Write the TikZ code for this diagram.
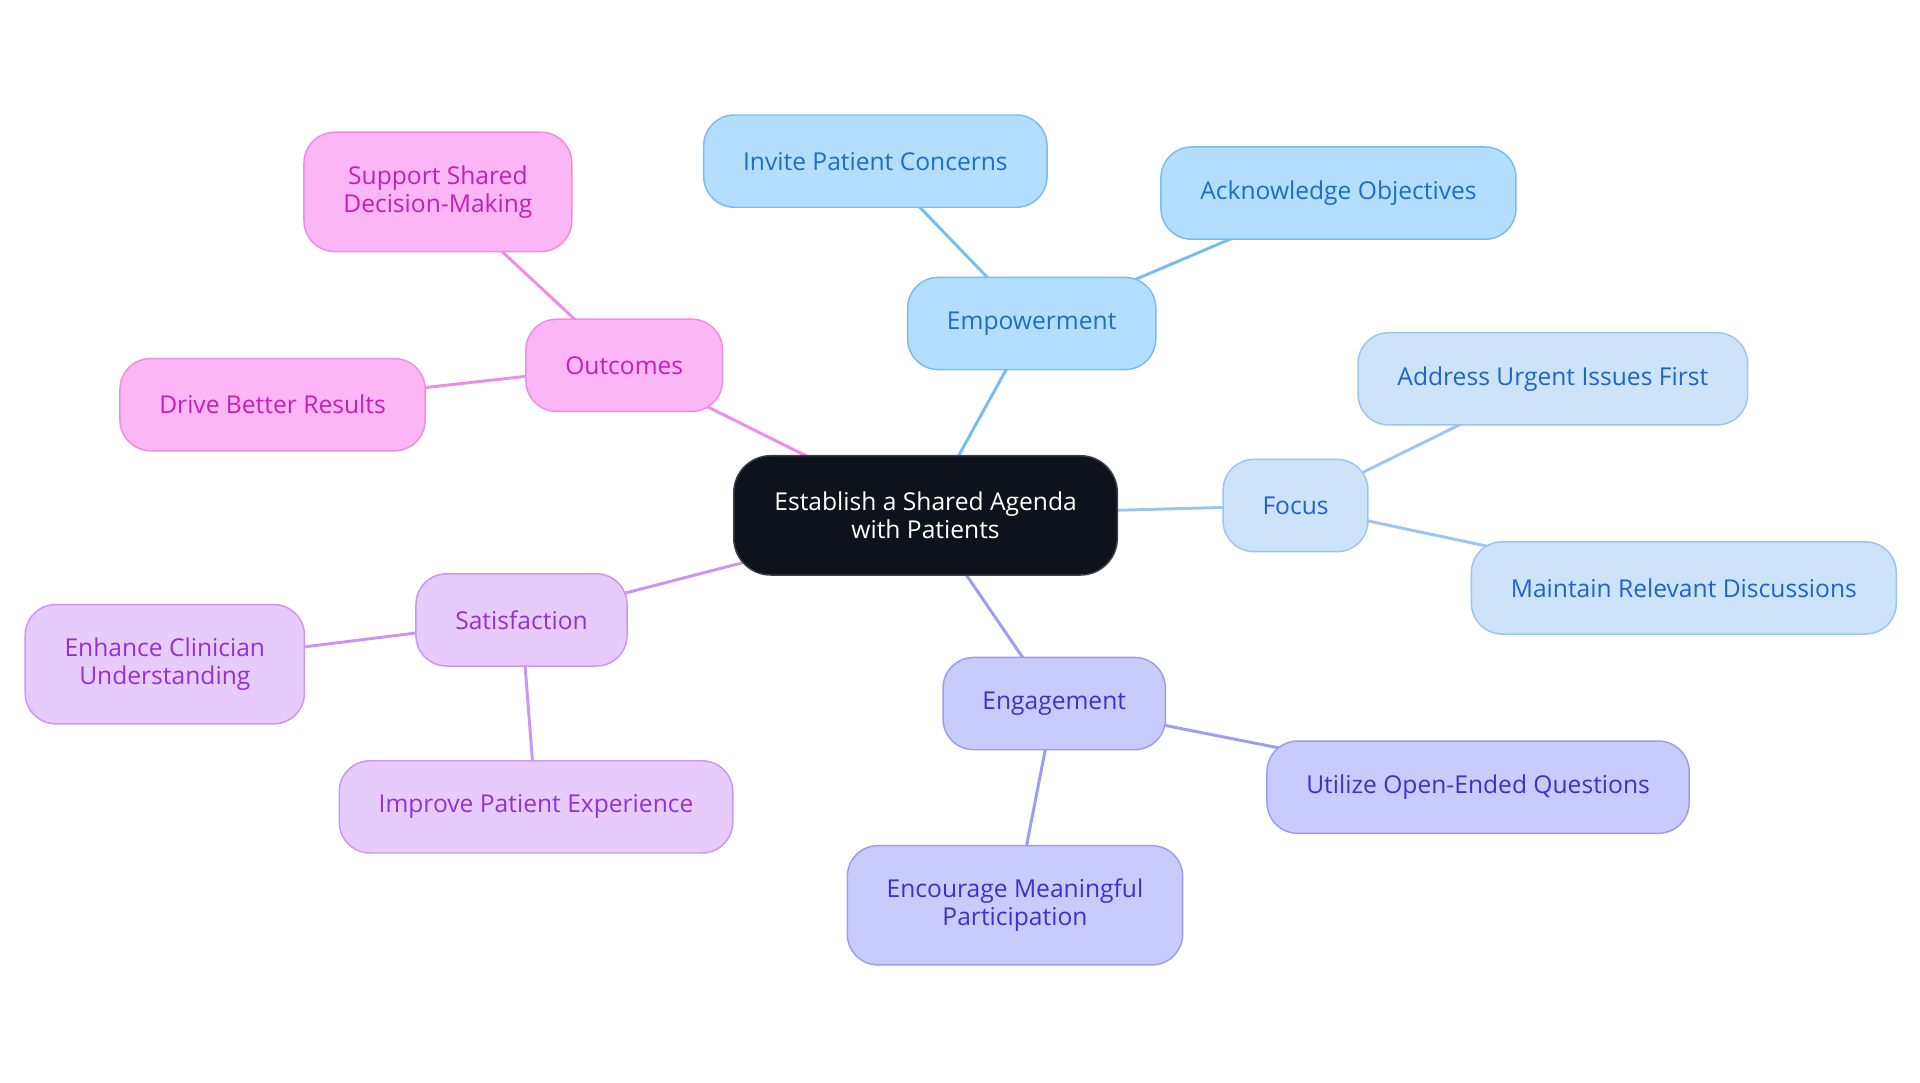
\documentclass[tikz,border=0pt]{standalone}
\usepackage{fontspec}
\setmainfont{Open Sans}
\usetikzlibrary{backgrounds}

\definecolor{rootfill}{HTML}{0D121B}
\definecolor{rootline}{HTML}{3A3F47}
\definecolor{empfill}{HTML}{B3DEFD}
\definecolor{empline}{HTML}{79BDF0}
\definecolor{emptext}{HTML}{1C6FC5}
\definecolor{focfill}{HTML}{CCE3FA}
\definecolor{focline}{HTML}{9DC5F1}
\definecolor{foctext}{HTML}{1F64C8}
\definecolor{engfill}{HTML}{C9CBFD}
\definecolor{engline}{HTML}{9C9DF2}
\definecolor{engtext}{HTML}{3B33C8}
\definecolor{satfill}{HTML}{E8CBFD}
\definecolor{satline}{HTML}{CA96F1}
\definecolor{sattext}{HTML}{9331D4}
\definecolor{outcfill}{HTML}{FCB5F5}
\definecolor{outcline}{HTML}{F08DE3}
\definecolor{outctext}{HTML}{C520B5}

\begin{document}
\begin{tikzpicture}
  [x=1pt,y=-1pt,
   every node/.style={rounded corners=25pt,inner xsep=32pt,inner ysep=0pt,
     minimum height=75pt,align=center,line width=1.2pt,
     font=\fontsize{20}{22.5}\selectfont},
   rootbox/.style={fill=rootfill,draw=rootline,text=white,rounded corners=30pt,
     inner xsep=33pt,minimum height=97pt},
   twoline/.style={minimum height=97pt},
   empbox/.style={fill=empfill,draw=empline,text=emptext},
   focbox/.style={fill=focfill,draw=focline,text=foctext},
   engbox/.style={fill=engfill,draw=engline,text=engtext},
   satbox/.style={fill=satfill,draw=satline,text=sattext},
   outcbox/.style={fill=outcfill,draw=outcline,text=outctext}]
  \useasboundingbox (0,0) rectangle (1561,880);

  \node[rootbox] (agenda) at (752.5,419) {Establish a Shared Agenda\\with Patients};

  \node[empbox] (empower) at (838.8,263) {Empowerment};
  \node[empbox] (invite) at (711.7,131) {Invite Patient Concerns};
  \node[empbox] (acknow) at (1088.2,157) {Acknowledge Objectives};

  \node[focbox] (focus) at (1053.3,411) {Focus};
  \node[focbox] (urgent) at (1262.5,308) {Address Urgent Issues First};
  \node[focbox] (relevant) at (1369,478) {Maintain Relevant Discussions};

  \node[engbox] (engage) at (857.1,572) {Engagement};
  \node[engbox] (openq) at (1201.7,640) {Utilize Open-Ended Questions};
  \node[engbox,twoline] (particip) at (825.2,736) {Encourage Meaningful\\Participation};

  \node[satbox] (satisf) at (424,504) {Satisfaction};
  \node[satbox,twoline] (clinic) at (134,540) {Enhance Clinician\\Understanding};
  \node[satbox] (experience) at (435.8,656) {Improve Patient Experience};

  \node[outcbox] (outcome) at (507.5,297) {Outcomes};
  \node[outcbox,twoline] (decision) at (356,156) {Support Shared\\Decision-Making};
  \node[outcbox] (results) at (221.6,329) {Drive Better Results};

  \begin{scope}[on background layer]
    \foreach \from/\to/\col in {agenda/empower/empline,empower/invite/empline,
        empower/acknow/empline,agenda/focus/focline,focus/urgent/focline,
        focus/relevant/focline,agenda/engage/engline,engage/openq/engline,
        engage/particip/engline,agenda/satisf/satline,satisf/clinic/satline,
        satisf/experience/satline,agenda/outcome/outcline,outcome/decision/outcline,
        outcome/results/outcline}
      \draw[line width=2.4pt,\col] (\from.center) -- (\to.center);
  \end{scope}
\end{tikzpicture}
\end{document}
